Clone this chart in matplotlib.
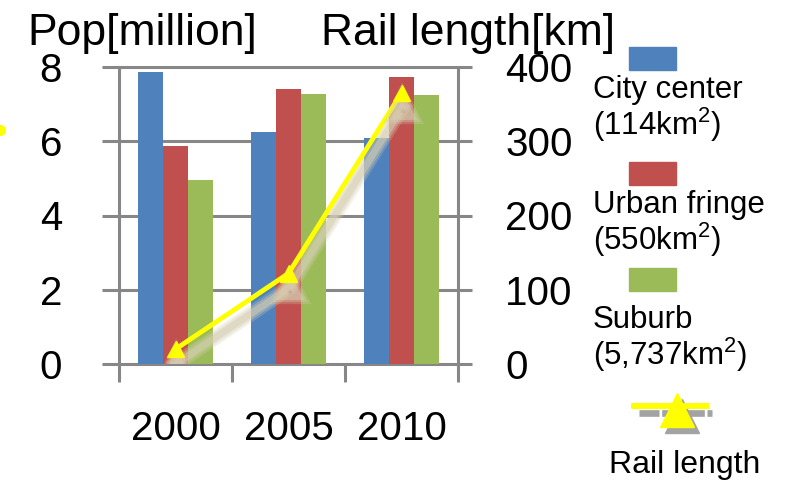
import numpy as np
import matplotlib
matplotlib.use("Agg")
import matplotlib.pyplot as plt
import matplotlib.patheffects as pe
from matplotlib.lines import Line2D
from matplotlib.patches import Rectangle

years = ["2000", "2005", "2010"]
zones = ["City center", "Urban fringe", "Suburb"]
zone_areas = ["(114km$^{2}$)", "(550km$^{2}$)", "(5,737km$^{2}$)"]
city_center = [7.86, 6.24, 6.10]
urban_fringe = [5.86, 7.41, 7.73]
suburb = [4.96, 7.28, 7.24]
rail_length = [20, 122, 365]
pop_ticks = [0, 2, 4, 6, 8]
rail_ticks = [0, 100, 200, 300, 400]

colors = ["#4F81BD", "#C0504D", "#9BBB59"]
yellow = "#FFFF00"
grid = "#878787"

plt.rcParams["font.family"] = ["Liberation Sans", "DejaVu Sans"]
plt.rcParams["mathtext.fontset"] = "custom"
plt.rcParams["mathtext.rm"] = "Liberation Sans"
plt.rcParams["mathtext.it"] = "Liberation Sans:italic"

W, H = 785, 484
fig = plt.figure(figsize=(W / 100, H / 100), dpi=100)


def fx(px):
    return px / W


def fy(py):
    return 1 - py / H


ax = fig.add_axes([fx(119), fy(364), fx(458) - fx(119), fy(67) - fy(364)])
xs = np.arange(len(years))
bw = 0.224
for i, (vals, c) in enumerate(zip([city_center, urban_fringe, suburb], colors)):
    ax.bar(xs + (i - 1) * bw, vals, bw, color=c, zorder=2)

# gridlines run a little past the plot on both sides, like tick marks
ax.hlines(pop_ticks, -0.65, 2.62, colors=grid, lw=2.2, clip_on=False, zorder=1)
ax.vlines([-0.5, 2.5], -0.48, 8, colors=grid, lw=2.2, clip_on=False, zorder=1)
ax.vlines([0.5, 1.5], -0.48, 0, colors=grid, lw=2.2, clip_on=False, zorder=1)
ax.set_xlim(-0.5, 2.5)
ax.set_ylim(0, 8)
for s in ax.spines.values():
    s.set_visible(False)

ax.set_xticks(xs, years)
ax.set_yticks(pop_ticks)
ax.tick_params(axis="x", length=0, pad=33, labelsize=29)
ax.tick_params(axis="y", length=0, pad=41, labelsize=29)

ax2 = ax.twinx()
ax2.set_ylim(0, 400)
ax2.set_yticks(rail_ticks)
ax2.tick_params(axis="y", length=0, pad=34, labelsize=29)
for s in ax2.spines.values():
    s.set_visible(False)

shadow = [pe.SimpleLineShadow(offset=(0.5, -10.5), shadow_color="#d6cfb2", alpha=a, linewidth=w)
          for a, w in [(0.25, 11), (0.35, 8), (0.5, 5)]]
ax2.plot(xs, rail_length, color=yellow, lw=3.5, marker="^", ms=12, zorder=3,
         path_effects=shadow + [pe.Normal()])

# titles above the two axes
fig.text(fx(27), fy(45), "Pop[million]", fontsize=32, va="baseline")
fig.text(fx(321), fy(45), "Rail length[km]", fontsize=32, va="baseline")

# legend drawn by hand: swatch above, two-line label below
patch_tops = [47, 162, 268]
name_base = [98, 213, 328]
area_base = [135, 250, 365]
for c, name, area, pt, nb, ab in zip(colors, zones, zone_areas, patch_tops, name_base, area_base):
    fig.patches.append(Rectangle((fx(629), fy(pt + 23)), fx(47), 23 / H, color=c,
                                 transform=fig.transFigure))
    fig.text(fx(593), fy(nb), name, fontsize=22.5, va="baseline")
    fig.text(fx(593), fy(ab), area, fontsize=22.5, va="baseline")

fig.add_artist(Line2D([fx(639), fx(712)], [fy(413), fy(413)], color="#a3a3a3", lw=4.8,
                      dashes=(3, 0.4), transform=fig.transFigure))
fig.add_artist(Line2D([fx(682)], [fy(416)], marker="^", ms=25, color="#a3a3a3",
                      transform=fig.transFigure))
fig.add_artist(Line2D([fx(634), fx(706)], [fy(406), fy(406)], color=yellow, lw=4.3,
                      transform=fig.transFigure))
fig.add_artist(Line2D([fx(677)], [fy(410)], marker="^", ms=25, color=yellow,
                      transform=fig.transFigure))
fig.text(fx(609), fy(473), "Rail length", fontsize=23, va="baseline")

fig.add_artist(Line2D([fx(0)], [fy(130)], marker="o", ms=7, color=yellow,
                      transform=fig.transFigure))

fig.savefig("out.png", dpi=100)
